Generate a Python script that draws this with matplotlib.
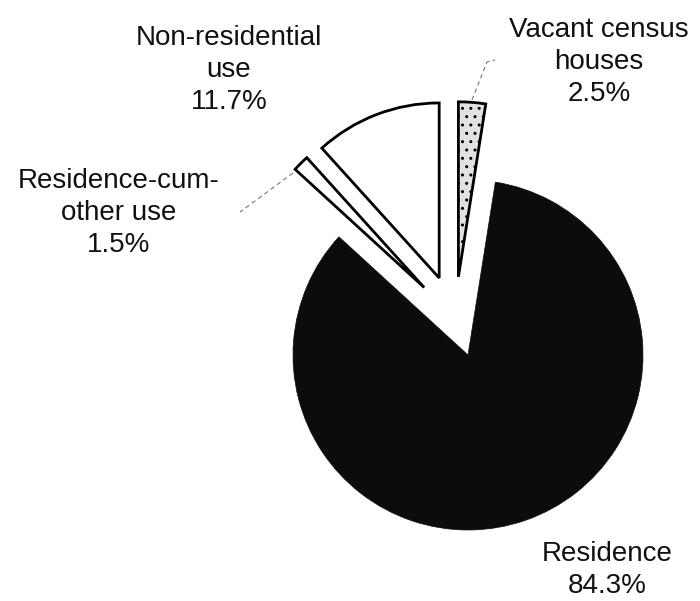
import numpy as np
import matplotlib.pyplot as plt
from matplotlib.lines import Line2D

# data
labels = ["Residence", "Residence-cum-\nother use", "Non-residential\nuse", "Vacant census\nhouses"]
shares = [84.3, 1.5, 11.7, 2.5]

# styles
face = ["#0c0c0c", "white", "white", "#e2e2e2"]
pull = [0.0, 0.46, 0.47, 0.45]        # how far each slice is pulled out (radius units)
pull_dir = [0, 123, 110.5, 97]       # direction of the pull, degrees (scan is not radial)
hatches = [None, None, None, ".."]

W, H = 700, 601
R_PX = 175.0          # pie radius in pixels
CX, CY = 468, 355     # pie centre in pixels

plt.rcParams["font.family"] = ["Liberation Sans", "DejaVu Sans"]
fig = plt.figure(figsize=(W / 100, H / 100), dpi=100)
ax = fig.add_axes([0, 0, 1, 1])

wedges, _ = ax.pie(shares, colors=face, startangle=81,
                   counterclock=False, radius=1.0,
                   wedgeprops=dict(linewidth=2.0, edgecolor="black"))
wedges[0].set_edgecolor(face[0])
wedges[0].set_linewidth(0.5)
for w, h, d, a in zip(wedges, hatches, pull, pull_dir):
    if h:
        w.set_hatch(h)
    if d:
        t = np.deg2rad(a)
        w.set_center((d * np.cos(t), d * np.sin(t)))

ax.set_xlim(-CX / R_PX, (W - CX) / R_PX)
ax.set_ylim(-(H - CY) / R_PX, CY / R_PX)
ax.set_aspect("equal")
ax.axis("off")

# labels (pixel positions of the text block centres)
label_pos = [(607, 570), (119, 213), (229, 70), (599, 62)]
for lab, val, (px, py) in zip(labels, shares, label_pos):
    fig.text(px / W, 1 - py / H, f"{lab}\n{val}%", ha="center", va="center",
             fontsize=20, linespacing=1.28, color="#111111")

# faint leader lines as in the scan
def fl(pts):
    xs = [p[0] / W for p in pts]
    ys = [1 - p[1] / H for p in pts]
    fig.add_artist(Line2D(xs, ys, transform=fig.transFigure, color="#777777",
                          lw=0.8, ls=(0, (4, 3))))

fl([(472, 100), (487, 62), (495, 60)])
fl([(293, 173), (240, 212)])

fig.savefig("out.png", dpi=100, facecolor="white")
